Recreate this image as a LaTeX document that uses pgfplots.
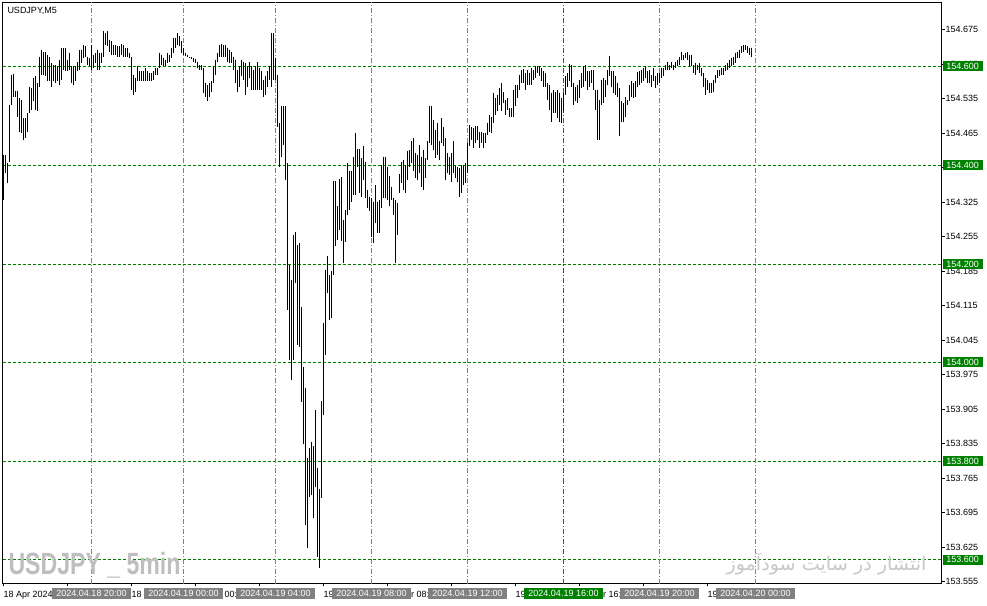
\documentclass[border=0pt]{standalone}
\usepackage{pgfplots}
\pgfplotsset{compat=1.18}
\usepackage{pgfplotstable}
\usepackage{fontspec}
\setmainfont{Liberation Sans}
\newfontfamily\arabicfont[Script=Arabic]{DejaVu Sans}
\TeXXeTstate=1

\definecolor{mtgreen}{RGB}{0,128,0}
\definecolor{mtgray}{RGB}{128,128,128}
\definecolor{wmgray}{RGB}{190,190,190}
\definecolor{fagray}{RGB}{200,200,200}

% USDJPY M5 bars: index, high, low
\pgfplotstableread{
i hi lo
0 154.421 154.329
1 154.421 154.384
2 154.405 154.364
3 154.522 154.407
4 154.583 154.522
5 154.585 154.539
6 154.551 154.539
7 154.551 154.498
8 154.536 154.468
9 154.532 154.465
10 154.496 154.451
11 154.496 154.455
12 154.506 154.468
13 154.559 154.506
14 154.557 154.512
15 154.577 154.529
16 154.580 154.512
17 154.567 154.509
18 154.620 154.559
19 154.634 154.583
20 154.630 154.583
21 154.630 154.580
22 154.624 154.570
23 154.620 154.570
24 154.607 154.559
25 154.603 154.570
26 154.603 154.567
27 154.600 154.570
28 154.614 154.563
29 154.638 154.573
30 154.638 154.593
31 154.638 154.590
32 154.614 154.590
33 154.628 154.593
34 154.600 154.567
35 154.600 154.563
36 154.600 154.570
37 154.610 154.590
38 154.634 154.593
39 154.634 154.607
40 154.644 154.618
41 154.641 154.620
42 154.620 154.603
43 154.618 154.600
44 154.644 154.593
45 154.624 154.597
46 154.628 154.607
47 154.634 154.593
48 154.628 154.593
49 154.628 154.607
50 154.671 154.620
51 154.668 154.644
52 154.671 154.641
53 154.654 154.630
54 154.651 154.624
55 154.644 154.624
56 154.644 154.624
57 154.641 154.620
58 154.641 154.620
59 154.646 154.624
60 154.644 154.620
61 154.638 154.620
62 154.638 154.620
63 154.628 154.618
64 154.620 154.553
65 154.583 154.543
66 154.577 154.549
67 154.600 154.570
68 154.590 154.570
69 154.590 154.570
70 154.590 154.570
71 154.597 154.570
72 154.590 154.570
73 154.587 154.570
74 154.587 154.570
75 154.590 154.573
76 154.597 154.583
77 154.597 154.583
78 154.628 154.597
79 154.624 154.603
80 154.618 154.600
81 154.614 154.600
82 154.628 154.607
83 154.624 154.610
84 154.638 154.618
85 154.658 154.628
86 154.658 154.638
87 154.668 154.644
88 154.661 154.641
89 154.651 154.628
90 154.638 154.624
91 154.628 154.622
92 154.624 154.620
93 154.620 154.618
94 154.619 154.616
95 154.618 154.610
96 154.616 154.608
97 154.610 154.597
98 154.603 154.593
99 154.603 154.593
100 154.597 154.547
101 154.567 154.539
102 154.563 154.529
103 154.567 154.539
104 154.570 154.549
105 154.600 154.567
106 154.614 154.583
107 154.628 154.610
108 154.644 154.620
109 154.646 154.620
110 154.644 154.620
111 154.644 154.620
112 154.638 154.610
113 154.634 154.607
114 154.630 154.607
115 154.620 154.593
116 154.614 154.567
117 154.593 154.549
118 154.600 154.559
119 154.614 154.580
120 154.610 154.573
121 154.607 154.543
122 154.600 154.559
123 154.610 154.577
124 154.600 154.553
125 154.593 154.553
126 154.600 154.553
127 154.610 154.553
128 154.597 154.553
129 154.590 154.553
130 154.573 154.539
131 154.580 154.543
132 154.590 154.559
133 154.600 154.573
134 154.668 154.559
135 154.668 154.573
136 154.618 154.573
137 154.583 154.478
138 154.486 154.397
139 154.519 154.417
140 154.519 154.441
141 154.519 154.370
142 154.404 154.106
143 154.197 154.004
144 154.167 153.964
145 154.258 154.004
146 154.265 154.161
147 154.238 154.035
148 154.242 154.031
149 154.113 153.920
150 153.991 153.835
151 153.948 153.669
152 153.805 153.623
153 153.826 153.727
154 153.839 153.730
155 153.830 153.684
156 153.903 153.747
157 153.785 153.605
158 153.743 153.582
159 153.921 153.724
160 154.080 153.893
161 154.187 154.015
162 154.216 154.141
163 154.177 154.086
164 154.186 154.090
165 154.368 154.177
166 154.368 154.235
167 154.317 154.248
168 154.372 154.268
169 154.376 154.247
170 154.289 154.201
171 154.309 154.243
172 154.404 154.299
173 154.387 154.309
174 154.387 154.326
175 154.417 154.339
176 154.466 154.339
177 154.433 154.397
178 154.433 154.344
179 154.415 154.336
180 154.438 154.370
181 154.407 154.333
182 154.350 154.313
183 154.336 154.306
184 154.333 154.255
185 154.326 154.242
186 154.360 154.283
187 154.326 154.262
188 154.329 154.262
189 154.400 154.313
190 154.417 154.333
191 154.417 154.333
192 154.397 154.329
193 154.377 154.316
194 154.356 154.329
195 154.333 154.299
196 154.329 154.201
197 154.323 154.258
198 154.382 154.344
199 154.407 154.364
200 154.411 154.350
201 154.400 154.344
202 154.429 154.370
203 154.431 154.397
204 154.448 154.404
205 154.455 154.387
206 154.425 154.374
207 154.421 154.370
208 154.441 154.384
209 154.417 154.356
210 154.431 154.350
211 154.415 154.374
212 154.448 154.411
213 154.520 154.445
214 154.520 154.441
215 154.492 154.431
216 154.471 154.415
217 154.486 154.421
218 154.448 154.411
219 154.496 154.445
220 154.478 154.438
221 154.455 154.370
222 154.425 154.384
223 154.417 154.380
224 154.425 154.366
225 154.448 154.384
226 154.398 154.374
227 154.397 154.366
228 154.394 154.336
229 154.400 154.344
230 154.400 154.360
231 154.404 154.364
232 154.445 154.384
233 154.482 154.438
234 154.478 154.451
235 154.476 154.435
236 154.479 154.445
237 154.479 154.451
238 154.468 154.435
239 154.468 154.445
240 154.465 154.435
241 154.465 154.445
242 154.486 154.461
243 154.502 154.468
244 154.498 154.465
245 154.547 154.486
246 154.536 154.502
247 154.543 154.509
248 154.557 154.522
249 154.567 154.509
250 154.549 154.526
251 154.532 154.502
252 154.536 154.512
253 154.516 154.498
254 154.516 154.498
255 154.553 154.498
256 154.563 154.519
257 154.563 154.536
258 154.583 154.553
259 154.593 154.567
260 154.595 154.567
261 154.587 154.553
262 154.593 154.563
263 154.587 154.563
264 154.597 154.563
265 154.593 154.573
266 154.601 154.577
267 154.601 154.587
268 154.601 154.580
269 154.597 154.570
270 154.590 154.559
271 154.587 154.559
272 154.567 154.532
273 154.563 154.512
274 154.547 154.488
275 154.553 154.506
276 154.549 154.506
277 154.553 154.496
278 154.547 154.488
279 154.536 154.486
280 154.547 154.509
281 154.580 154.543
282 154.587 154.559
283 154.605 154.570
284 154.603 154.559
285 154.567 154.522
286 154.559 154.529
287 154.563 154.526
288 154.573 154.536
289 154.587 154.557
290 154.600 154.559
291 154.603 154.570
292 154.590 154.553
293 154.590 154.559
294 154.593 154.567
295 154.593 154.553
296 154.553 154.512
297 154.553 154.451
298 154.532 154.451
299 154.573 154.522
300 154.577 154.526
301 154.573 154.539
302 154.593 154.563
303 154.622 154.580
304 154.590 154.559
305 154.590 154.547
306 154.580 154.543
307 154.567 154.539
308 154.557 154.458
309 154.529 154.488
310 154.526 154.488
311 154.539 154.498
312 154.532 154.522
313 154.563 154.529
314 154.570 154.539
315 154.567 154.536
316 154.570 154.539
317 154.588 154.559
318 154.590 154.563
319 154.593 154.567
320 154.597 154.570
321 154.600 154.577
322 154.590 154.567
323 154.593 154.567
324 154.583 154.559
325 154.597 154.570
326 154.580 154.557
327 154.587 154.563
328 154.587 154.567
329 154.597 154.577
330 154.597 154.580
331 154.603 154.593
332 154.610 154.593
333 154.603 154.593
334 154.610 154.597
335 154.603 154.593
336 154.610 154.597
337 154.614 154.600
338 154.620 154.603
339 154.630 154.614
340 154.624 154.614
341 154.628 154.618
342 154.630 154.614
343 154.624 154.600
344 154.624 154.600
345 154.603 154.587
346 154.607 154.583
347 154.603 154.593
348 154.607 154.587
349 154.597 154.580
350 154.587 154.559
351 154.577 154.543
352 154.573 154.553
353 154.567 154.547
354 154.567 154.547
355 154.573 154.549
356 154.583 154.567
357 154.593 154.577
358 154.593 154.580
359 154.597 154.583
360 154.597 154.583
361 154.603 154.590
362 154.607 154.593
363 154.614 154.597
364 154.618 154.600
365 154.620 154.603
366 154.628 154.607
367 154.630 154.618
368 154.634 154.618
369 154.641 154.628
370 154.644 154.630
371 154.644 154.634
372 154.641 154.628
373 154.638 154.624
374 154.638 154.620
}\bars

\tikzset{
  tbox/.style={fill=mtgray, text=white, inner sep=0pt, minimum width=79pt,
    minimum height=11pt, font=\fontsize{9}{10}\selectfont, anchor=north},
  gbox/.style={fill=mtgreen, text=white, inner sep=0pt, minimum width=40pt,
    minimum height=10pt, font=\fontsize{9}{10}\selectfont, anchor=west},
  hline/.style={mtgreen, line width=1pt, dash pattern=on 3pt off 2pt},
  vline/.style={mtgray, line width=1pt, dash pattern=on 5pt off 2pt on 1pt off 2pt},
}

\begin{document}
\begin{tikzpicture}[x=1pt,y=1pt]
\path[use as bounding box, fill=white] (0,0) rectangle (987,605);
% horizontal price lines, drawn behind the bars
\foreach \r in {66,165,264,362,461,559}
  \draw[hline] (2.5,604.5-\r) -- (941.5,604.5-\r);
\begin{axis}[
  at={(2.5pt,21.5pt)}, anchor=south west,
  width=939pt, height=581pt, scale only axis,
  xmin=-0.5, xmax=469, ymin=153.5513, ymax=154.7298,
  axis line style={black, line width=1pt},
  ytick pos=right, yticklabel pos=right, xtick pos=bottom,
  tick align=outside, major tick length=3pt,
  tick style={black, line width=1pt},
  ytick={153.555,153.625,153.695,153.765,153.835,153.905,153.975,154.045,154.115,
         154.185,154.255,154.325,154.395,154.465,154.535,154.605,154.675},
  yticklabel style={font=\fontsize{9}{10}\selectfont, anchor=west, inner sep=0pt, xshift=1pt},
  /pgf/number format/fixed, /pgf/number format/fixed zerofill,
  /pgf/number format/precision=3, /pgf/number format/assume math mode=true,
  xtick={0,32,64,96,128,160,192,224,256,288,320,352},
  xticklabels={18 Apr 2024,18 Apr 19:00,18 Apr 21:40,19 Apr 00:30,19 Apr 03:20,
    19 Apr 06:00,19 Apr 08:40,19 Apr 11:20,19 Apr 14:00,19 Apr 16:40,19 Apr 19:20,19 Apr 22:00},
  xticklabel style={font=\fontsize{9}{10}\selectfont, anchor=base west, inner sep=0pt, yshift=-10.6pt},
]
\pgfplotsinvokeforeach{44,90,136,184,232,328,376}{
  \draw[vline] (axis cs:#1,153.5513) -- (axis cs:#1,154.7298);}
\draw[vline, mtgreen] (axis cs:280,153.5513) -- (axis cs:280,154.7298);

\addplot[forget plot, mark=none, draw=none,
  error bars/.cd, y dir=minus, y explicit, error mark=none,
  error bar style={draw=black, line width=1pt}]
  table[x=i, y=hi, y error minus expr={\thisrow{hi}-\thisrow{lo}}] {\bars};
\end{axis}

% price labels of the horizontal lines
\node[gbox] at (942.5,604.5-66)  {154.600};
\node[gbox] at (942.5,604.5-165) {154.400};
\node[gbox] at (942.5,604.5-264) {154.200};
\node[gbox] at (942.5,604.5-362) {154.000};
\node[gbox] at (942.5,604.5-461) {153.800};
\node[gbox] at (942.5,604.5-559) {153.600};

% time labels of the vertical lines
\node[tbox] at (91.5,17)  {2024.04.18 20:00};
\node[tbox] at (183.5,17) {2024.04.19 00:00};
\node[tbox] at (275.5,17) {2024.04.19 04:00};
\node[tbox] at (371.5,17) {2024.04.19 08:00};
\node[tbox] at (467.5,17) {2024.04.19 12:00};
\node[tbox, fill=mtgreen] at (563.5,17) {2024.04.19 16:00};
\node[tbox] at (659.5,17) {2024.04.19 20:00};
\node[tbox] at (755.5,17) {2024.04.20 00:00};

\node[anchor=base west, inner sep=0pt, font=\fontsize{9}{10}\selectfont] at (7.3,591) {USDJPY,M5};

\node[anchor=south west, inner sep=0pt, text=wmgray] at (8.3,27)
  {\resizebox*{172pt}{26pt}{\fontsize{35}{35}\selectfont\bfseries USDJPY \_ 5min}};
\node[anchor=south east, inner sep=0pt, text=fagray] at (926.7,30)
  {\resizebox*{200pt}{22pt}{\fontsize{20}{24}\selectfont\arabicfont\beginR انتشار در سایت سودآموز\endR}};
\end{tikzpicture}
\end{document}
